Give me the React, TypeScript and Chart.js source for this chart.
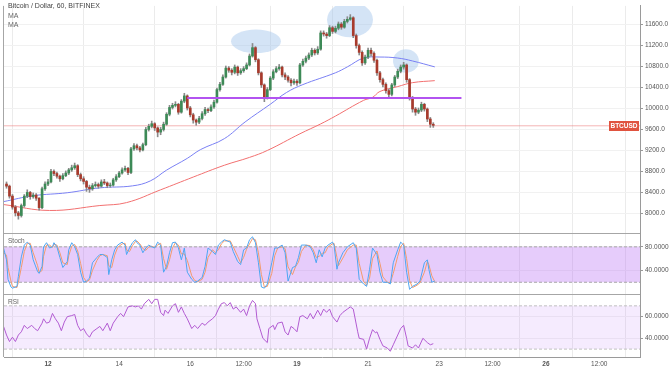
import { useEffect, useRef } from 'react';
import { Chart, registerables } from 'chart.js';

Chart.register(...registerables);

// ---------------- data (x in hours from the 11th, 00:00) ----------------
const candleStartHour = -4;
const candleStepHours = 2;
const firstOpen = 8560;

const closes = [
  8520, 8330, 8120, 8010, 7960, 8150, 8330, 8400, 8320, 8350,
  8290, 8110, 8470, 8560, 8600, 8800, 8760, 8710, 8660, 8720,
  8770, 8830, 8870, 8910, 8740, 8660, 8610, 8500, 8470, 8530,
  8550, 8520, 8600, 8580, 8530, 8540, 8640, 8700, 8770, 8830,
  8860, 8780, 9230, 9290, 9250, 9210, 9310, 9600, 9660, 9710,
  9630, 9550, 9600, 9700, 9890, 10020, 10060, 10080, 9930, 10140,
  10240, 10010, 9880, 9780, 9740, 9810, 9900, 9980, 9960, 10030,
  10120, 10360, 10460, 10600, 10770, 10730, 10690, 10790, 10680, 10720,
  10760, 10830, 11000, 11160, 10930, 10680, 10450, 10210, 10360, 10580,
  10700, 10760, 10790, 10640, 10600, 10540, 10490, 10520, 10490, 10830,
  10900, 10960, 11020, 11110, 11060, 11130, 11440, 11420, 11390, 11540,
  11470, 11530, 11610, 11550, 11660, 11700, 11730, 11390, 11200, 11070,
  10870, 10980, 11110, 11050, 10920, 10680, 10550, 10460, 10340, 10270,
  10450, 10600, 10710, 10790, 10830, 10550, 10210, 9990, 9930, 9970,
  10080, 9990, 9800, 9700, 9680,
];
const highs = [
  8600, 8540, 8360, 8150, 8040, 8180, 8360, 8450, 8420, 8390,
  8380, 8300, 8500, 8600, 8650, 8840, 8830, 8790, 8730, 8760,
  8810, 8860, 8920, 8960, 8930, 8770, 8700, 8630, 8540, 8570,
  8600, 8580, 8640, 8650, 8600, 8580, 8670, 8740, 8800, 8870,
  8900, 8880, 9260, 9330, 9320, 9280, 9340, 9640, 9700, 9760,
  9730, 9650, 9640, 9740, 9920, 10060, 10100, 10130, 10100, 10170,
  10290, 10260, 10040, 9910, 9800, 9850, 9940, 10020, 10010, 10070,
  10160, 10390, 10500, 10640, 10810, 10800, 10760, 10830, 10810, 10760,
  10800, 10870, 11040, 11240, 11180, 10950, 10700, 10470, 10400, 10610,
  10740, 10800, 10840, 10810, 10680, 10630, 10570, 10560, 10550, 10860,
  10940, 11000, 11060, 11150, 11140, 11180, 11480, 11480, 11450, 11580,
  11570, 11570, 11650, 11640, 11700, 11750, 11790, 11750, 11420, 11230,
  11100, 11020, 11150, 11150, 11080, 10940, 10710, 10580, 10490, 10370,
  10480, 10630, 10750, 10830, 10880, 10850, 10570, 10230, 10020, 10010,
  10120, 10100, 10010, 9830, 9730,
];
const lows = [
  8480, 8290, 8080, 7950, 7890, 7930, 8120, 8300, 8270, 8290,
  8250, 8060, 8090, 8440, 8530, 8580, 8720, 8670, 8610, 8640,
  8700, 8740, 8800, 8840, 8700, 8620, 8560, 8420, 8400, 8440,
  8500, 8480, 8500, 8550, 8490, 8500, 8520, 8610, 8680, 8750,
  8800, 8740, 8760, 9200, 9210, 9170, 9190, 9290, 9570, 9630,
  9580, 9460, 9500, 9570, 9680, 9860, 9990, 10030, 9890, 9910,
  10110, 9970, 9840, 9720, 9680, 9710, 9780, 9870, 9920, 9940,
  10000, 10100, 10330, 10440, 10580, 10690, 10640, 10660, 10630, 10650,
  10690, 10740, 10810, 10980, 10890, 10640, 10400, 10130, 10180, 10340,
  10550, 10680, 10730, 10600, 10550, 10500, 10430, 10460, 10440, 10470,
  10800, 10870, 10930, 10990, 11020, 11030, 11110, 11380, 11340, 11370,
  11430, 11440, 11500, 11510, 11530, 11630, 11680, 11350, 11150, 11020,
  10820, 10840, 10950, 11000, 10880, 10630, 10500, 10410, 10290, 10200,
  10240, 10420, 10570, 10680, 10750, 10500, 10160, 9930, 9870, 9900,
  9940, 9950, 9750, 9640, 9640,
];

const maFastHours = [-6, 14, 37, 59, 81, 93, 104, 118, 127, 143, 157, 174, 185, 196, 218, 226, 237, 248, 260, 270, 285];
const maFast = [8225, 8337, 8394, 8487, 8525, 8619, 8825, 9050, 9218, 9425, 9743, 10081, 10306, 10456, 10681, 10793, 10962, 10981, 10962, 10906, 10793];

const maSlowHours = [-6, 25, 59, 77, 100, 122, 143, 160, 172, 194, 208, 218, 237, 243, 248, 260, 270, 285];
const maSlow = [8169, 8056, 8150, 8206, 8450, 8693, 8918, 9068, 9200, 9518, 9706, 9856, 10156, 10212, 10325, 10418, 10493, 10531];

const supportLevel = 10200;
const supportFromHour = 118;
const supportToHour = 303;
const lastPrice = 9670;
const symbolName = 'BTCUSD';

// highlight ellipses (data-space boxes)
const hlX0 = [147.5, 212.3, 256.8];
const hlX1 = [181.2, 243.3, 274.3];
const hlY0 = [11056, 11356, 10681];
const hlY1 = [11506, 12031, 11131];

const stochHours = [
  -6, -4, -3, -1, 0, 3, 4, 6, 8, 10,
  12, 14, 17, 18, 20, 21, 23, 25, 27, 28,
  30, 32, 34, 37, 38, 40, 42, 44, 46, 48,
  50, 52, 54, 57, 59, 61, 64, 65, 67, 69,
  71, 74, 76, 77, 79, 81, 83, 84, 86, 88,
  90, 92, 94, 96, 98, 100, 102, 104, 106, 108,
  110, 112, 114, 116, 118, 121, 123, 125, 128, 130,
  132, 135, 137, 139, 141, 143, 147, 149, 152, 154,
  156, 158, 160, 162, 164, 166, 168, 170, 172, 175,
  177, 179, 182, 184, 186, 189, 191, 193, 195, 198,
  201, 203, 205, 207, 209, 211, 213, 216, 217, 219,
  220, 223, 226, 230, 232, 234, 237, 239, 241, 243,
  246, 248, 250, 253, 255, 257, 260, 262, 264, 266,
  268, 270, 273, 275, 278, 280, 281, 283, 285,
];
const stochK = [
  78, 58, 25, 12, 10, 13, 30, 63, 83, 88,
  83, 58, 38, 35, 47, 80, 87, 78, 80, 87,
  80, 62, 45, 55, 75, 87, 80, 67, 37, 20,
  22, 27, 53, 62, 67, 67, 62, 33, 58, 75,
  83, 88, 83, 67, 78, 87, 92, 87, 83, 70,
  78, 83, 80, 78, 88, 83, 37, 47, 70, 87,
  88, 78, 58, 78, 37, 25, 20, 22, 28, 47,
  78, 72, 67, 83, 88, 92, 88, 72, 55, 50,
  75, 78, 92, 97, 87, 53, 12, 10, 17, 53,
  78, 78, 83, 70, 22, 45, 47, 62, 83, 83,
  80, 70, 53, 75, 63, 78, 83, 88, 83, 42,
  53, 70, 80, 87, 78, 25, 17, 13, 42, 78,
  67, 37, 20, 20, 17, 53, 75, 88, 83, 37,
  8, 13, 17, 22, 53, 58, 42, 20, 22,
];
const stochD = [
  70, 66, 45, 22, 13, 11, 20, 45, 72, 86,
  86, 70, 48, 36, 40, 64, 83, 83, 79, 84,
  83, 70, 53, 50, 65, 81, 84, 73, 52, 28,
  21, 24, 40, 57, 65, 67, 65, 48, 45, 66,
  79, 85, 86, 75, 72, 82, 89, 90, 85, 77,
  74, 80, 81, 79, 83, 86, 60, 42, 58, 78,
  87, 83, 68, 68, 57, 31, 23, 21, 25, 37,
  62, 75, 70, 75, 85, 90, 90, 80, 64, 53,
  62, 76, 85, 94, 92, 70, 33, 12, 13, 35,
  65, 78, 80, 77, 46, 33, 46, 54, 72, 83,
  82, 75, 62, 64, 69, 70, 80, 85, 86, 62,
  48, 61, 75, 83, 83, 52, 21, 15, 27, 60,
  73, 52, 29, 20, 19, 35, 64, 81, 86, 60,
  23, 11, 15, 19, 37, 55, 50, 31, 21,
];
const stochUpper = 80;
const stochLower = 20;

const rsiHours = [
  -6, -4, -2, 0, 2, 4, 6, 8, 10, 13,
  15, 17, 20, 21, 23, 25, 27, 29, 31, 33,
  35, 37, 40, 42, 44, 46, 48, 50, 52, 54,
  57, 59, 61, 64, 66, 68, 71, 73, 75, 78,
  81, 83, 85, 87, 89, 92, 94, 96, 98, 100,
  102, 103, 105, 108, 110, 112, 114, 116, 118, 121,
  123, 125, 128, 130, 132, 135, 137, 139, 141, 143,
  145, 147, 149, 151, 154, 156, 158, 160, 162, 164,
  165, 167, 169, 172, 173, 176, 177, 179, 182, 184,
  186, 188, 190, 192, 194, 196, 199, 201, 203, 206,
  208, 210, 212, 214, 216, 219, 221, 223, 226, 228,
  230, 233, 234, 237, 239, 241, 243, 245, 246, 248,
  250, 253, 255, 257, 260, 262, 264, 266, 267, 270,
  272, 274, 277, 280, 282, 284,
];
const rsiVals = [
  51, 43, 37, 41, 37, 43, 46, 52, 49, 52,
  49, 47, 54, 58, 54, 55, 63, 58, 54, 47,
  55, 60, 61, 62, 52, 47, 49, 44, 41, 46,
  49, 51, 47, 54, 47, 54, 60, 63, 60, 69,
  70, 69, 70, 67, 72, 76, 72, 76, 76, 64,
  61, 66, 63, 70, 72, 64, 69, 63, 58, 49,
  52, 49, 54, 52, 55, 58, 61, 67, 72, 73,
  70, 73, 67, 69, 64, 67, 61, 70, 75, 72,
  58, 49, 40, 36, 49, 52, 48, 54, 55, 46,
  43, 51, 49, 46, 60, 61, 58, 63, 58, 66,
  61, 67, 64, 67, 60, 55, 61, 64, 67, 69,
  67, 46, 40, 39, 30, 40, 48, 45, 46, 39,
  33, 31, 28, 34, 43, 49, 52, 40, 33, 31,
  34, 31, 40, 36, 34, 35,
];
const rsiUpper = 70;
const rsiLower = 30;

const xTickHours = [24, 72, 120, 156, 192, 240, 288, 324, 360, 396];
const xTickLabels = ['12', '14', '16', '12:00', '19', '21', '23', '12:00', '26', '12:00'];
const xTickBold = ['12', '19', '26'];
const priceTicks = [8000, 8400, 8800, 9200, 9600, 10000, 10400, 10800, 11200, 11600];
const stochTicks = [40, 80];
const rsiTicks = [40, 60];

// axis ranges
const X_MIN = -5.7;
const X_MAX = 423.5;
const PRICE_MIN = 7625;
const PRICE_MAX = 11956;
const STOCH_MIN = 0;
const STOCH_MAX = 103.3;
const RSI_MIN = 22.7;
const RSI_MAX = 80.9;

const FONT = 'Liberation Sans';

const zip = (xs: number[], ys: number[]) => xs.map((x, i) => ({ x, y: ys[i] }));

const panePlugin = {
  id: 'panes',
  beforeDatasetsDraw(chart: any) {
    const { ctx, chartArea, scales } = chart;
    ctx.save();
    ctx.beginPath();
    ctx.rect(chartArea.left, chartArea.top, chartArea.right - chartArea.left, scales.y.bottom - chartArea.top);
    ctx.clip();
    ctx.fillStyle = 'rgba(160,195,235,0.45)';
    for (let i = 0; i < hlX0.length; i++) {
      const x0 = scales.x.getPixelForValue(hlX0[i]);
      const x1 = scales.x.getPixelForValue(hlX1[i]);
      const y0 = scales.y.getPixelForValue(hlY0[i]);
      const y1 = scales.y.getPixelForValue(hlY1[i]);
      ctx.beginPath();
      ctx.ellipse((x0 + x1) / 2, (y0 + y1) / 2, Math.abs(x1 - x0) / 2, Math.abs(y1 - y0) / 2, 0, 0, Math.PI * 2);
      ctx.fill();
    }
    ctx.restore();
  },
  afterDatasetsDraw(chart: any) {
    const { ctx, chartArea, scales } = chart;
    ctx.save();
    // pane separators and left border
    ctx.strokeStyle = '#a6a6a6';
    ctx.lineWidth = 1;
    ctx.beginPath();
    for (const id of ['yS', 'yR']) {
      const t = Math.round(scales[id].top) + 0.5;
      ctx.moveTo(chartArea.left, t);
      ctx.lineTo(chartArea.right, t);
    }
    const lx = Math.round(chartArea.left) - 0.5;
    ctx.moveTo(lx, chartArea.top);
    ctx.lineTo(lx, chartArea.bottom);
    ctx.stroke();
    // last price label
    const y = scales.y.getPixelForValue(lastPrice);
    const w = 30;
    const h = 10;
    const x = chartArea.right - w - 1;
    ctx.fillStyle = '#e0533f';
    ctx.fillRect(x, Math.round(y - h / 2), w, h);
    ctx.fillStyle = '#ffffff';
    ctx.font = `bold 6.5px "${FONT}"`;
    ctx.textAlign = 'center';
    ctx.textBaseline = 'middle';
    ctx.fillText(symbolName, x + w / 2, Math.round(y - h / 2) + h / 2 + 0.5);
    ctx.restore();
  },
};

export default function App() {
  const ref = useRef<HTMLCanvasElement>(null);

  useEffect(() => {
    const hours = closes.map((_, i) => candleStartHour + i * candleStepHours);
    const opens = closes.map((_, i) => (i === 0 ? firstOpen : closes[i - 1]));
    const bodyColors = closes.map((c, i) => (c >= opens[i] ? '#3d8a57' : '#a83a2c'));
    const bodyData = hours.map((h, i) => ({ x: h, y: [opens[i], closes[i]] }));
    const wickData = hours.map((h, i) => ({ x: h, y: [lows[i], highs[i]] }));

    const yAxisCommon = (fmt: (v: number) => string, ticks: number[]) => ({
      type: 'linear' as const,
      position: 'right' as const,
      stack: 'panes',
      afterBuildTicks: (s: any) => {
        s.ticks = ticks.map((v) => ({ value: v }));
      },
      afterFit: (s: any) => {
        s.width = 32;
      },
      ticks: {
        padding: 2,
        color: '#555',
        font: { family: FONT, size: 6.5 },
        callback: (v: any) => fmt(Number(v)),
      },
      grid: { color: '#f1f1f1', tickLength: 3, tickColor: '#999', lineWidth: 1 },
      border: { color: '#9a9a9a' },
    });

    const chart = new Chart(ref.current as HTMLCanvasElement, {
      type: 'bar',
      data: {
        datasets: [
          {
            type: 'line',
            data: zip(stochHours, stochK),
            yAxisID: 'yS',
            borderColor: '#4ea6f2',
            borderWidth: 1,
            pointRadius: 0,
            order: 1,
          } as any,
          {
            type: 'line',
            data: zip(stochHours, stochD),
            yAxisID: 'yS',
            borderColor: '#f39a6c',
            borderWidth: 1,
            pointRadius: 0,
            order: 2,
          } as any,
          {
            type: 'line',
            data: zip(rsiHours, rsiVals),
            yAxisID: 'yR',
            borderColor: '#b25bd2',
            borderWidth: 1,
            pointRadius: 0,
            order: 1,
          } as any,
          {
            type: 'line',
            data: [{ x: X_MIN, y: stochUpper }, { x: X_MAX, y: stochUpper }],
            yAxisID: 'yS',
            borderColor: '#a8a8a8',
            borderDash: [3, 2],
            borderWidth: 1,
            pointRadius: 0,
            fill: false,
            order: 20,
          } as any,
          {
            type: 'line',
            data: [{ x: X_MIN, y: stochLower }, { x: X_MAX, y: stochLower }],
            yAxisID: 'yS',
            borderColor: '#a8a8a8',
            borderDash: [3, 2],
            borderWidth: 1,
            pointRadius: 0,
            fill: '-1',
            backgroundColor: 'rgba(190,120,245,0.38)',
            order: 21,
          } as any,
          {
            type: 'line',
            data: [{ x: X_MIN, y: rsiUpper }, { x: X_MAX, y: rsiUpper }],
            yAxisID: 'yR',
            borderColor: '#c0c0c0',
            borderDash: [3, 2],
            borderWidth: 1,
            pointRadius: 0,
            fill: false,
            order: 20,
          } as any,
          {
            type: 'line',
            data: [{ x: X_MIN, y: rsiLower }, { x: X_MAX, y: rsiLower }],
            yAxisID: 'yR',
            borderColor: '#c0c0c0',
            borderDash: [3, 2],
            borderWidth: 1,
            pointRadius: 0,
            fill: '-1',
            backgroundColor: 'rgba(190,120,245,0.15)',
            order: 21,
          } as any,
          {
            type: 'line',
            data: [{ x: X_MIN, y: lastPrice }, { x: X_MAX, y: lastPrice }],
            yAxisID: 'y',
            borderColor: 'rgba(235,120,120,0.55)',
            borderWidth: 1,
            pointRadius: 0,
            order: 15,
          } as any,
          {
            type: 'line',
            data: zip(maSlowHours, maSlow),
            yAxisID: 'y',
            borderColor: '#f27070',
            borderWidth: 1,
            pointRadius: 0,
            tension: 0.4,
            order: 8,
          } as any,
          {
            type: 'line',
            data: zip(maFastHours, maFast),
            yAxisID: 'y',
            borderColor: '#7a80f4',
            borderWidth: 1,
            pointRadius: 0,
            tension: 0.4,
            order: 7,
          } as any,
          {
            type: 'bar',
            data: wickData,
            yAxisID: 'y',
            backgroundColor: '#8a8a8a',
            barThickness: 1,
            grouped: false,
            borderWidth: 0,
            order: 6,
          } as any,
          {
            type: 'bar',
            data: bodyData,
            yAxisID: 'y',
            backgroundColor: bodyColors,
            barThickness: 2,
            grouped: false,
            borderWidth: 0,
            order: 5,
          } as any,
          {
            type: 'line',
            data: [{ x: supportFromHour, y: supportLevel }, { x: supportToHour, y: supportLevel }],
            yAxisID: 'y',
            borderColor: '#b253f0',
            borderWidth: 2,
            pointRadius: 0,
            order: 0,
          } as any,
        ],
      },
      options: {
        responsive: false,
        animation: false,
        devicePixelRatio: 1,
        layout: { padding: { left: 4, top: 0, right: 0, bottom: 0 } },
        plugins: { legend: { display: false }, tooltip: { enabled: false } },
        events: [],
        scales: {
          x: {
            type: 'linear',
            position: 'bottom',
            min: X_MIN,
            max: X_MAX,
            offset: false,
            afterBuildTicks: (s: any) => {
              s.ticks = xTickHours.map((v) => ({ value: v }));
            },
            afterFit: (s: any) => {
              s.height = 15;
            },
            ticks: {
              autoSkip: false,
              maxRotation: 0,
              padding: 3,
              color: '#555',
              font: (c: any) => {
                const lbl = xTickLabels[xTickHours.indexOf(c.tick ? c.tick.value : -999)];
                return { family: FONT, size: 6.5, weight: xTickBold.includes(lbl) ? 'bold' : 'normal' };
              },
              callback: (v: any) => xTickLabels[xTickHours.indexOf(Number(v))] ?? '',
            },
            grid: { color: '#ebebeb', drawTicks: false, lineWidth: 1 },
            border: { color: '#9a9a9a' },
          },
          y: {
            ...yAxisCommon((v) => v.toFixed(1), priceTicks),
            stackWeight: 231,
            min: PRICE_MIN,
            max: PRICE_MAX,
          },
          yS: {
            ...yAxisCommon((v) => v.toFixed(4), stochTicks),
            stackWeight: 62,
            min: STOCH_MIN,
            max: STOCH_MAX,
          },
          yR: {
            ...yAxisCommon((v) => v.toFixed(4), rsiTicks),
            stackWeight: 64,
            min: RSI_MIN,
            max: RSI_MAX,
          },
        } as any,
      },
      plugins: [panePlugin],
    });
    return () => chart.destroy();
  }, []);

  const txt = (top: number, left: number, s: string, color = '#555', size = 7) => (
    <div
      style={{
        position: 'absolute',
        top,
        left,
        fontFamily: FONT,
        fontSize: size,
        lineHeight: '9px',
        color,
        whiteSpace: 'nowrap',
      }}
    >
      {s}
    </div>
  );

  return (
    <div style={{ position: 'fixed', left: 0, top: 0, width: 672, height: 372, background: '#fff' }}>
      <canvas ref={ref} width={672} height={372} style={{ display: 'block', width: 672, height: 372 }} />
      {txt(1, 8, 'Bitcoin / Dollar, 60, BITFINEX', '#444')}
      {txt(11, 8, 'MA', '#666')}
      {txt(20, 8, 'MA', '#666')}
      {txt(236, 8, 'Stoch', '#666', 6.5)}
      {txt(297, 8, 'RSI', '#666', 6.5)}
    </div>
  );
}
